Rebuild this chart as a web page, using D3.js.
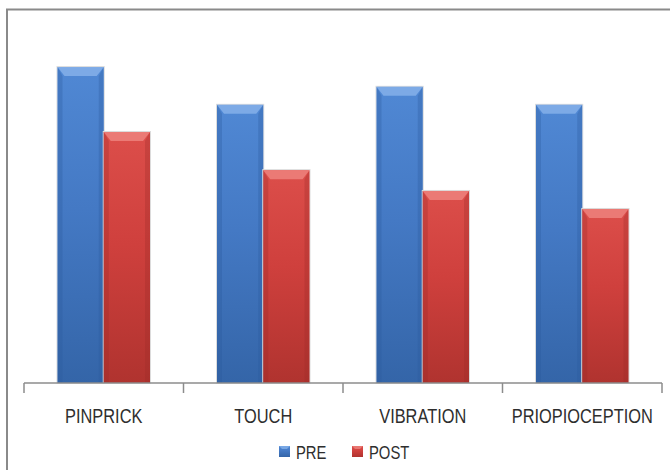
<!DOCTYPE html>
<html>
<head>
<meta charset="utf-8">
<script src="https://cdn.jsdelivr.net/npm/d3@7"></script>
<style>
  body { margin: 0; background: #fff; }
  svg { display: block; }
</style>
</head>
<body>
<div id="chart"></div>
<script>
// chart data
const categories = ["PINPRICK", "TOUCH", "VIBRATION", "PRIOPIOCEPTION"];
const seriesNames = ["PRE", "POST"];
const preValues = [89.5, 78.8, 83.9, 78.8];
const postValues = [71.1, 60.3, 54.4, 49.3];

const width = 670;
const height = 470;
const marginLeft = 24;
const marginRight = 8;
const marginTop = 30;
const axisY = 383;

const colors = {
    PRE: { top: "#5088d4", mid: "#4479c4", bottom: "#3465a8", bevel: "#8cb6ec", side: "#2c5a9c" },
    POST: { top: "#dc4e4a", mid: "#cf403d", bottom: "#b0332f", bevel: "#f08a84", side: "#9c2a28" }
};

const rows = categories.map((c, i) => ({ category: c, PRE: preValues[i], POST: postValues[i] }));

const svg = d3.select("#chart").append("svg")
    .attr("width", width)
    .attr("height", height);

const defs = svg.append("defs");
seriesNames.forEach(s => {
    const g = defs.append("linearGradient")
        .attr("id", "grad-" + s)
        .attr("x1", 0).attr("y1", 0).attr("x2", 0).attr("y2", 1);
    g.append("stop").attr("offset", "0%").attr("stop-color", colors[s].top);
    g.append("stop").attr("offset", "45%").attr("stop-color", colors[s].mid);
    g.append("stop").attr("offset", "100%").attr("stop-color", colors[s].bottom);
});

// outer frame (runs past the right and bottom edge like the source)
svg.append("rect")
    .attr("x", 7).attr("y", 9.5)
    .attr("width", width + 20).attr("height", height + 20)
    .attr("fill", "none")
    .attr("stroke", "#8a8a8a")
    .attr("stroke-width", 2);

const x = d3.scaleBand()
    .domain(categories)
    .range([marginLeft, width - marginRight])
    .paddingInner(0.42)
    .paddingOuter(0.21);

const xInner = d3.scaleBand()
    .domain(seriesNames)
    .range([0, x.bandwidth()]);

const y = d3.scaleLinear()
    .domain([0, 100])
    .range([axisY, marginTop]);

// bars
const bevel = 7;
const groups = svg.append("g")
    .selectAll("g")
    .data(rows)
    .join("g")
    .attr("transform", d => `translate(${x(d.category)},0)`);

const bars = groups.selectAll("g")
    .data(d => seriesNames.map(s => ({ series: s, value: d[s] })))
    .join("g");

bars.append("rect")
    .attr("x", d => xInner(d.series) - 0.5)
    .attr("y", d => y(d.value) - 0.5)
    .attr("width", xInner.bandwidth() + 1)
    .attr("height", d => axisY - y(d.value) + 0.5)
    .attr("fill", "none")
    .attr("stroke", "#dcdcdc")
    .attr("stroke-width", 1);

bars.append("rect")
    .attr("x", d => xInner(d.series))
    .attr("y", d => y(d.value))
    .attr("width", xInner.bandwidth())
    .attr("height", d => axisY - y(d.value))
    .attr("fill", d => `url(#grad-${d.series})`);

// side strips
bars.append("path")
    .attr("fill", d => colors[d.series].side)
    .attr("opacity", 0.3)
    .attr("d", d => {
        const x0 = xInner(d.series), x1 = x0 + xInner.bandwidth(), y0 = y(d.value);
        return `M${x0},${y0}L${x0 + bevel - 2},${y0 + bevel + 2}L${x0 + bevel - 2},${axisY}L${x0},${axisY}Z` +
               `M${x1},${y0}L${x1 - bevel + 2},${y0 + bevel + 2}L${x1 - bevel + 2},${axisY}L${x1},${axisY}Z`;
    });

// top bevel
bars.append("path")
    .attr("fill", d => colors[d.series].bevel)
    .attr("opacity", 0.75)
    .attr("d", d => {
        const x0 = xInner(d.series), x1 = x0 + xInner.bandwidth(), y0 = y(d.value);
        return `M${x0},${y0}L${x1},${y0}L${x1 - bevel},${y0 + bevel + 2}L${x0 + bevel},${y0 + bevel + 2}Z`;
    });

// category axis
const axis = svg.append("g").attr("stroke", "#8c8c8c").attr("stroke-width", 1.5);
axis.append("line")
    .attr("x1", x.range()[0]).attr("x2", x.range()[1])
    .attr("y1", axisY).attr("y2", axisY);

const tickXs = categories.map(c => x(c) - x.step() * x.paddingInner() / 2);
tickXs.push(x.range()[1]);
tickXs[0] = x.range()[0];
axis.selectAll("line.tick")
    .data(tickXs)
    .join("line")
    .attr("class", "tick")
    .attr("x1", d => d).attr("x2", d => d)
    .attr("y1", axisY).attr("y2", axisY + 10);

// tall, narrow lettering as in the source picture
const font = "'Liberation Sans', Arial, sans-serif";
const squeeze = 0.78;

svg.append("g")
    .selectAll("text")
    .data(categories)
    .join("text")
    .attr("transform", d => `translate(${x(d) + x.bandwidth() / 2},423) scale(${squeeze},1)`)
    .attr("text-anchor", "middle")
    .attr("font-family", font)
    .attr("font-size", 21)
    .attr("fill", "#2e2e2e")
    .text(d => d);

// legend
const legendX = [279, 352];
const legend = svg.append("g")
    .selectAll("g")
    .data(seriesNames)
    .join("g")
    .attr("transform", (d, i) => `translate(${legendX[i]},446)`);

legend.append("rect")
    .attr("width", 11).attr("height", 11)
    .attr("fill", d => `url(#grad-${d})`);
legend.append("path")
    .attr("fill", d => colors[d].bevel)
    .attr("opacity", 0.7)
    .attr("d", "M0,0L11,0L8,3L3,3Z");

legend.append("text")
    .attr("transform", `translate(17,13) scale(${squeeze},1)`)
    .attr("font-family", font)
    .attr("font-size", 19)
    .attr("fill", "#2e2e2e")
    .text(d => d);
</script>
</body>
</html>
